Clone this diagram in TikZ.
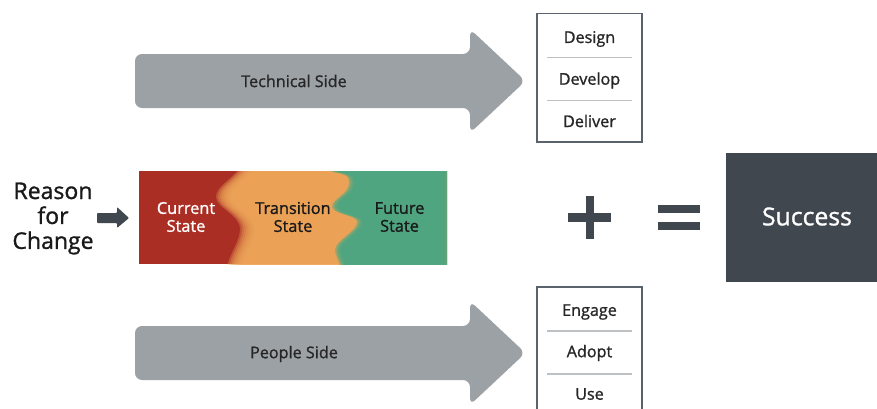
\documentclass[tikz,border=0pt]{standalone}
\usepackage{fontspec}
\setmainfont{Open Sans}
\newfontfamily\semifont{Open Sans}[FakeBold=1.1]
\usetikzlibrary{positioning}
\definecolor{arrowgray}{HTML}{9CA1A6}
\definecolor{darkslate}{HTML}{40474F}
\definecolor{boxedge}{HTML}{5A626B}
\definecolor{ruleline}{HTML}{BEC1C4}
\definecolor{bandred}{HTML}{AB2E25}
\definecolor{bandorange}{HTML}{EFA95A}
\definecolor{bandgreen}{HTML}{46A784}
\tikzset{
	sidelabel/.style={font=\semifont\fontsize{9.2}{11}\selectfont, text=black!85},
	steplabel/.style={font=\semifont\fontsize{9.2}{11}\selectfont, text=black!85},
	statelabel/.style={font=\semifont\fontsize{9.3}{10.2}\selectfont, align=center},
	reasonlabel/.style={font=\semifont\fontsize{13.1}{14.2}\selectfont, align=center, text=black!90},
	stepbox/.style={draw=boxedge, line width=0.9pt, fill=white},
	steprule/.style={draw=ruleline, line width=0.6pt},
	bigarrow/.style={fill=arrowgray, rounded corners=4pt}
}
\begin{document}
\begin{tikzpicture}[x=0.02cm, y=-0.02cm]
	\clip (0,0) rectangle (877,409);
	\fill [white] (0,0) rectangle (877,409);
	% the two big arrows
	\foreach \y in {81,353} {
		\fill [bigarrow] (135,\y-27) -- (470,\y-27) -- (470,\y-52) -- (525.5,\y) -- (470,\y+52) -- (470,\y+27) -- (135,\y+27) -- cycle;
	}
	\node [sidelabel] (technical) at (294,81) {Technical Side};
	\node [sidelabel] (people) at (294,354) {People Side};
	% step boxes
	\draw [stepbox] (537,13.5) rectangle (642,142);
	\draw [stepbox] (537,287) rectangle (642,416);
	\foreach \y in {57.5,100.5,331,374} {
		\draw [steprule] (547,\y) -- (632,\y);
	}
	\node [steplabel] (design) at (589.5,39) {Design};
	\node [steplabel] (develop) at (589.5,80.5) {Develop};
	\node [steplabel] (deliver) at (589.5,121) {Deliver};
	\node [steplabel] (engage) at (589.5,312) {Engage};
	\node [steplabel] (adopt) at (589.5,353) {Adopt};
	\node [steplabel] (use) at (589.5,394) {Use};
	% state band, soft edges are stacked shapes
	\begin{scope}
		\clip (139,171) rectangle (447,264);
		\fill [bandred] (139,171) rectangle (447,264);
		\foreach \d in {-8,-6,...,8} {
			\fill [bandorange, opacity=0.3, xshift=\d*0.02cm] (250,165) .. controls (240,180) and (224,186) .. (224,197) .. controls (224,208) and (249,215) .. (248,230) .. controls (247,243) and (238,252) .. (234,270) -- (447,270) -- (447,165) -- cycle;
		}
		\foreach \d in {-3,-1.5,0,1.5,3} {
			\fill [bandgreen, opacity=0.42, xshift=\d*0.02cm] (333,165) -- (335,172) .. controls (345,173) and (353,176) .. (352,182) .. controls (352,195) and (335,198) .. (335,207) .. controls (337,215) and (360,215) .. (360,222) .. controls (360,232) and (338,240) .. (338,250) .. controls (338,256) and (342,260) .. (344,270) -- (447,270) -- (447,165) -- cycle;
		}
	\end{scope}
	\node [statelabel, text=white] (current) at (186,217) {Current\\State};
	\node [statelabel, text=black!90] (transition) at (293,217) {Transition\\State};
	\node [statelabel, text=black!90] (future) at (399.5,217) {Future\\State};
	% reason and small arrow
	\node [reasonlabel] (reason) at (53,218.5) {Reason\\for\\Change};
	\fill [darkslate, rounded corners=0.5pt] (97,213) -- (117,213) -- (117,207) -- (129,218) -- (117,228) -- (117,223) -- (97,223) -- cycle;
	% plus and equals
	\fill [darkslate] (568,213) rectangle (611,222);
	\fill [darkslate] (586,196) rectangle (594,239);
	\fill [darkslate] (658,205) rectangle (700,213);
	\fill [darkslate] (658,222) rectangle (700,230);
	\fill [darkslate] (726,153) rectangle (877,282);
	\node [text=white, font=\semifont\fontsize{14.1}{15}\selectfont] (success) at (807,216.5) {Success};
\end{tikzpicture}
\end{document}
